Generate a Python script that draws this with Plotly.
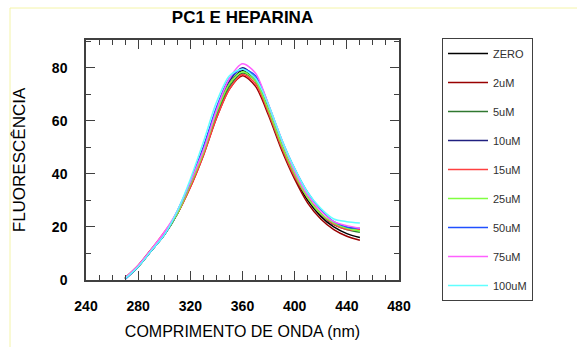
import plotly.graph_objects as go

wavelength = [270, 280, 290, 300, 310, 320, 330, 340, 350, 360, 370, 380, 390, 400, 410, 420, 430, 440, 450]

series_names = ["ZERO", "2uM", "5uM", "10uM", "15uM", "25uM", "50uM", "75uM", "100uM"]
series_colors = ["#000000", "#990000", "#307830", "#202080", "#ff4040", "#80ff40", "#2050ff", "#ff60ff", "#60ffff"]

zero   = [0.5, 5.0, 11.0, 17.0, 25.0, 36.0, 48.0, 63.0, 74.0, 79.0, 75.0, 63.0, 50.0, 39.0, 30.0, 24.0, 20.0, 17.5, 16.0]
um2    = [0.8, 5.5, 11.5, 17.5, 25.0, 35.0, 47.0, 61.0, 72.0, 77.0, 73.0, 62.0, 49.0, 38.0, 29.0, 23.0, 19.0, 16.5, 15.0]
um5    = [0.5, 5.0, 11.0, 17.0, 25.0, 36.0, 48.0, 62.0, 73.0, 78.0, 75.0, 63.0, 50.0, 39.0, 31.0, 25.0, 21.0, 19.0, 18.0]
um10   = [0.3, 5.0, 11.0, 17.0, 25.0, 37.0, 50.0, 64.0, 75.0, 80.0, 76.0, 64.0, 51.0, 40.0, 31.0, 25.0, 21.0, 19.5, 19.0]
um15   = [0.8, 5.5, 11.5, 18.0, 25.0, 35.0, 47.0, 61.0, 72.0, 77.5, 74.0, 63.0, 50.0, 39.0, 31.0, 25.0, 21.0, 19.0, 19.0]
um25   = [0.5, 5.0, 11.0, 17.0, 25.0, 36.0, 48.0, 63.0, 74.0, 78.5, 75.0, 64.0, 51.0, 40.0, 31.0, 25.0, 21.5, 19.5, 18.5]
um50   = [0.3, 5.0, 11.0, 17.0, 26.0, 37.0, 50.0, 65.0, 76.0, 79.5, 77.0, 66.0, 53.0, 42.0, 33.0, 26.5, 22.0, 20.0, 19.5]
um75   = [0.8, 5.5, 11.5, 18.0, 26.0, 37.0, 49.0, 64.0, 76.0, 81.5, 78.0, 66.0, 53.0, 41.0, 32.0, 26.0, 22.0, 20.5, 19.5]
um100  = [0.5, 5.0, 11.0, 17.0, 26.0, 38.0, 52.0, 67.0, 77.0, 79.5, 76.0, 66.0, 53.0, 42.0, 33.0, 27.0, 23.0, 22.0, 21.5]

all_series = [zero, um2, um5, um10, um15, um25, um50, um75, um100]

x_ticks = [240, 280, 320, 360, 400, 440, 480]
y_ticks = [0, 20, 40, 60, 80]

fig = go.Figure()
for name, color, vals in zip(series_names, series_colors, all_series):
    fig.add_trace(go.Scatter(
        x=wavelength, y=vals, name=name, mode="lines",
        line=dict(color=color, width=1.5, shape="spline", smoothing=0.8),
        legendgroup=name,
    ))

axis_color = "#404040"
fig.update_layout(
    width=577, height=347,
    margin=dict(l=86, r=178, t=40, b=67, autoexpand=False),
    paper_bgcolor="white", plot_bgcolor="white",
    font=dict(family="Arial, Liberation Sans, sans-serif", color="black"),
    title=dict(text="PC1 E HEPARINA", x=0.5, xref="paper", xanchor="center",
               y=1 - 17 / 347, yref="container", yanchor="middle",
               font=dict(size=17, weight="bold", color="black")),
    showlegend=True,
    legend=dict(
        x=(442 - 86) / 313, xanchor="left", y=(280 - 38) / 240, yanchor="top",
        bordercolor="#404040", borderwidth=1, bgcolor="white",
        font=dict(size=11, color="#303030", weight="normal"),
        tracegroupgap=10, traceorder="grouped",
        entrywidth=140, entrywidthmode="pixels", itemwidth=40,
        maxheight=330,
    ),
    xaxis=dict(
        range=[240, 480], tickvals=x_ticks, ticktext=[str(v) for v in x_ticks],
        ticks="inside", ticklen=9, tickwidth=1.2, tickcolor=axis_color,
        minor=dict(dtick=10, ticks="inside", ticklen=5, tickwidth=1, tickcolor=axis_color),
        showline=True, linecolor=axis_color, linewidth=1.5, mirror="ticks",
        showgrid=False, zeroline=False, automargin=False,
        tickfont=dict(size=14, weight="bold", color="black"),
        ticklabelstandoff=12,
        title=dict(text="COMPRIMENTO DE ONDA (nm)", font=dict(size=16, color="black"), standoff=13),
    ),
    yaxis=dict(
        range=[0, 90.5], tickvals=y_ticks, ticktext=[str(v) for v in y_ticks],
        ticks="inside", ticklen=9, tickwidth=1.2, tickcolor=axis_color,
        minor=dict(dtick=10, ticks="inside", ticklen=5, tickwidth=1, tickcolor=axis_color),
        showline=True, linecolor=axis_color, linewidth=1.5, mirror="ticks",
        showgrid=False, zeroline=False, automargin=False,
        tickfont=dict(size=14, weight="bold", color="black"),
        ticklabelstandoff=14,
        title=dict(text="FLUORESCÊNCIA", font=dict(size=17, color="black"), standoff=22),
    ),
)

# faint yellow page frame
fig.add_shape(type="rect", xref="paper", yref="paper",
              x0=(10 - 86) / 313, x1=(600 - 86) / 313,
              y0=(280 - 360) / 240, y1=(280 - 8) / 240,
              line=dict(color="#f4f4a8", width=1), fillcolor="rgba(0,0,0,0)", layer="below")

fig.write_html("out.html", config={"displayModeBar": False},
               post_script="document.body.style.margin='0';")
